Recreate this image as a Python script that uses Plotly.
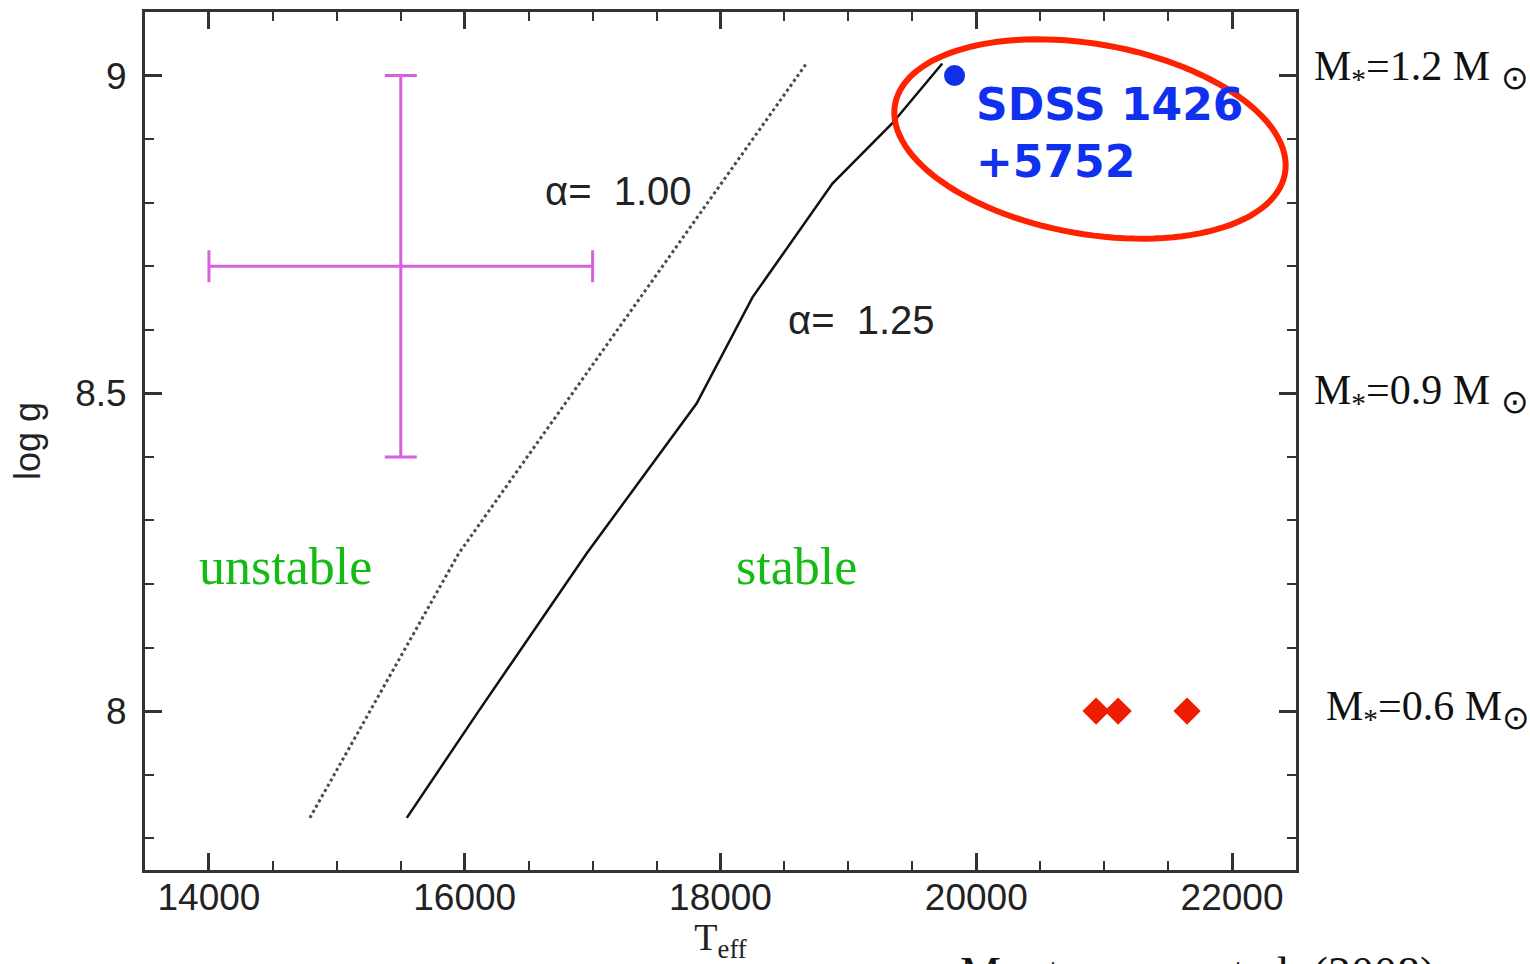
import numpy as np
import plotly.graph_objects as go

# Instability strip boundaries (Teff, log g)
alpha100_teff = [14789, 15953, 18672]
alpha100_logg = [7.832, 8.248, 9.019]

alpha125_teff = [15547, 16102, 16953, 17813, 18250, 18875, 19344, 19734]
alpha125_logg = [7.832, 7.998, 8.248, 8.484, 8.651, 8.830, 8.925, 9.019]

# SDSS 1426+5752
sdss_teff = [19830]
sdss_logg = [9.0]

# Other stars at log g = 8
dav_teff = [20937, 21109, 21648]
dav_logg = [8.0, 8.0, 8.0]

# Typical uncertainty
err_teff = [15500]
err_logg = [8.7]
err_dteff = [1500]
err_dlogg = [0.3]

# Mass labels on the right
mass_logg = [9.01, 8.5, 8.003]
sun = "<sub><span style='font-size:33px'>⊙</span></sub>"
mass_text = ["M<sub>*</sub>=1.2 M " + sun,
             "M<sub>*</sub>=0.9 M " + sun,
             "M<sub>*</sub>=0.6 M" + sun]
mass_xpaper = [1.0140, 1.0140, 1.0245]

x_range = [13500, 22500]
y_range = [7.75, 9.1]
x_ticks = [14000, 16000, 18000, 20000, 22000]
x_ticktext = ["14000", "16000", "18000", "20000", "22000"]
y_ticks = [8, 8.5, 9]
y_ticktext = ["8", "8.5", "9"]

W, H = 1530, 964
ML, MR, MT, MB = 145, 234, 12, 94
PW, PH = W - ML - MR, H - MT - MB

fig = go.Figure()

fig.add_trace(go.Scatter(x=alpha100_teff, y=alpha100_logg, mode="lines",
                         line=dict(color="#4a4a4a", width=3, dash="dot"),
                         showlegend=False))
fig.add_trace(go.Scatter(x=alpha125_teff, y=alpha125_logg, mode="lines",
                         line=dict(color="#111111", width=2.5),
                         showlegend=False))
fig.add_trace(go.Scatter(x=err_teff, y=err_logg, mode="markers",
                         marker=dict(size=2, color="#d860dc", opacity=0),
                         error_x=dict(type="data", array=err_dteff, color="#d860dc",
                                      thickness=3, width=16),
                         error_y=dict(type="data", array=err_dlogg, color="#d860dc",
                                      thickness=3, width=16),
                         showlegend=False))
fig.add_trace(go.Scatter(x=dav_teff, y=dav_logg, mode="markers",
                         marker=dict(symbol="diamond", size=21, color="#ee1c00"),
                         showlegend=False))
fig.add_trace(go.Scatter(x=sdss_teff, y=sdss_logg, mode="markers",
                         marker=dict(symbol="circle", size=21, color="#1030e8"),
                         showlegend=False))

# Red highlight ellipse around SDSS 1426+5752 (in paper units, tilted)
cx_px, cy_px, a_px, b_px, theta = 945, 127, 198, 95, np.deg2rad(10)
t = np.linspace(0, 2 * np.pi, 121)
ex = cx_px + a_px * np.cos(theta) * np.cos(t) - b_px * np.sin(theta) * np.sin(t)
ey = cy_px + a_px * np.sin(theta) * np.cos(t) + b_px * np.cos(theta) * np.sin(t)
px = ex / PW
py = 1 - ey / PH
path = "M " + " L ".join(f"{a:.5f},{b:.5f}" for a, b in zip(px, py)) + " Z"
fig.add_shape(type="path", path=path, xref="paper", yref="paper",
              line=dict(color="#ff2200", width=6))

axis_font = dict(family="Liberation Sans, Arial, sans-serif", size=37, color="#222222")

fig.update_xaxes(range=x_range, tickvals=x_ticks, ticktext=x_ticktext, ticks="inside",
                 ticklen=17, tickwidth=2.5, tickcolor="#333333", showline=True,
                 linewidth=3, linecolor="#333333", mirror="ticks", showgrid=False,
                 zeroline=False, tickfont=axis_font, automargin=False,
                 ticklabelstandoff=-7,
                 minor=dict(dtick=500, tick0=0, ticks="inside", ticklen=9,
                            tickwidth=2, tickcolor="#333333", showgrid=False),
                 title=dict(text="T<sub>eff</sub>", standoff=4,
                            font=dict(family="Liberation Serif, serif", size=38,
                                      color="#222222")))
fig.update_yaxes(range=y_range, tickvals=y_ticks, ticktext=y_ticktext, ticks="inside",
                 ticklen=17, tickwidth=2.5, tickcolor="#333333", showline=True,
                 linewidth=3, linecolor="#333333", mirror="ticks", showgrid=False,
                 zeroline=False, tickfont=axis_font, automargin=False,
                 ticklabelstandoff=8,
                 minor=dict(dtick=0.1, tick0=0, ticks="inside", ticklen=9,
                            tickwidth=2, tickcolor="#333333", showgrid=False),
                 title=dict(text="log g", standoff=24,
                            font=dict(family="Liberation Sans, Arial, sans-serif",
                                      size=36, color="#222222")))

annotations = []
lab_font = dict(family="Liberation Sans, Arial, sans-serif", size=40, color="#222222")
annotations.append(dict(x=16609, y=8.819, xref="x", yref="y", xanchor="left",
                        yanchor="middle", showarrow=False, font=lab_font,
                        text="α=\u00a0\u00a01.00"))
annotations.append(dict(x=18516, y=8.616, xref="x", yref="y", xanchor="left",
                        yanchor="middle", showarrow=False, font=lab_font,
                        text="α=\u00a0\u00a01.25"))
green = dict(family="Liberation Serif, Times New Roman, serif", size=52, color="#14bb14")
annotations.append(dict(x=13906, y=8.228, xref="x", yref="y", xanchor="left",
                        yanchor="middle", showarrow=False, font=green, text="unstable"))
annotations.append(dict(x=18102, y=8.228, xref="x", yref="y", xanchor="left",
                        yanchor="middle", showarrow=False, font=green, text="stable"))
annotations.append(dict(x=19984, y=8.91, xref="x", yref="y", xanchor="left",
                        yanchor="middle", align="left", showarrow=False,
                        font=dict(family="DejaVu Sans, Verdana, sans-serif", size=44,
                                  color="#1030f0", weight="bold"),
                        text="<b>SDSS 1426<br>+5752</b>"))
for xp, yv, txt in zip(mass_xpaper, mass_logg, mass_text):
    annotations.append(dict(x=xp, y=yv, xref="paper", yref="y", xanchor="left",
                            yanchor="middle", showarrow=False, text=txt,
                            font=dict(family="Liberation Serif, Times New Roman, serif",
                                      size=42, color="#111111")))
annotations.append(dict(x=(958 - ML) / PW, y=(PH - (946 - MT)) / PH, xref="paper",
                        yref="paper", xanchor="left", yanchor="top", showarrow=False,
                        text="Montgomery et al. (2008)",
                        font=dict(family="Liberation Serif, Times New Roman, serif",
                                  size=46, color="#111111")))

fig.update_layout(width=W, height=H, autosize=False,
                  margin=dict(l=ML, r=MR, t=MT, b=MB),
                  paper_bgcolor="white", plot_bgcolor="white",
                  annotations=annotations, showlegend=False)

fig.write_html("out.html")
